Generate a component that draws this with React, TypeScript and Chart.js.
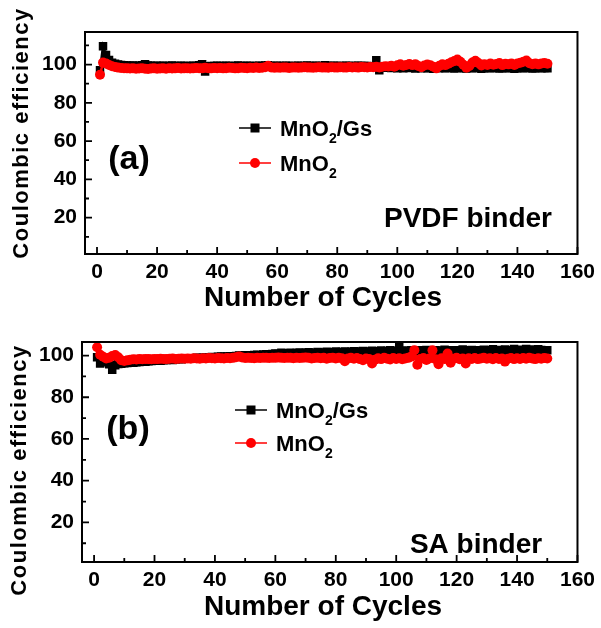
import React, { useEffect, useRef } from "react";
import { Chart, registerables } from "chart.js";

Chart.register(...registerables);

// ---------- data ----------
const cycles: number[] = Array.from({ length: 150 }, (_, i) => i + 1);

const xTickStep = 20;
const yTickStep = 20;

// Panel (a) PVDF binder
const pvdfGs: number[] = [
  97.0, 109.5, 105.0, 102.4, 101.0, 100.4, 100.0, 99.8, 99.6, 99.5,
  99.4, 99.5, 99.3, 99.4, 99.6, 100.1, 99.5, 99.4, 99.3, 99.4,
  99.3, 99.4, 99.2, 99.3, 99.5, 99.3, 99.2, 99.4, 99.3, 99.2,
  99.3, 99.4, 99.2, 99.6, 100.2, 96.3, 99.1, 99.3, 99.2, 99.4,
  99.3, 99.2, 99.4, 99.3, 99.2, 99.3, 99.5, 99.3, 99.2, 99.4,
  99.3, 99.2, 99.3, 99.4, 99.2, 99.5, 99.6, 99.3, 99.2, 99.4,
  99.3, 99.2, 99.4, 99.3, 99.2, 99.3, 99.4, 99.2, 99.3, 99.5,
  99.3, 99.2, 99.4, 99.3, 99.2, 99.6, 99.3, 99.2, 99.4, 99.3,
  99.2, 99.3, 99.4, 99.2, 99.3, 99.2, 99.4, 99.3, 99.2, 99.3,
  99.1, 98.9, 102.2, 97.0, 98.6, 98.3, 98.5, 98.2, 98.4, 98.1,
  98.3, 98.0, 98.4, 98.2, 98.5, 97.9, 98.3, 98.1, 98.4, 98.0,
  98.2, 97.8, 98.3, 98.1, 98.4, 98.0, 98.2, 98.3, 97.9, 98.2,
  98.4, 98.1, 97.9, 98.3, 98.0, 98.2, 98.4, 97.8, 98.1, 98.3,
  98.0, 98.2, 98.4, 97.9, 98.1, 98.3, 98.0, 98.2, 97.8, 98.1,
  98.3, 98.0, 98.2, 98.4, 97.9, 98.1, 98.3, 98.0, 98.2, 98.1,
];

const pvdfMn: number[] = [
  94.7, 101.0, 100.6, 99.8, 99.1, 98.7, 98.4, 98.2, 98.1, 98.0,
  97.9, 98.0, 97.8, 97.9, 98.1, 97.8, 97.7, 97.9, 98.0, 97.8,
  97.9, 98.0, 97.8, 98.1, 97.9, 98.0, 98.2, 97.9, 98.0, 98.1,
  97.9, 98.0, 98.2, 98.1, 98.0, 98.3, 98.1, 98.0, 98.2, 98.1,
  98.2, 98.0, 98.1, 98.3, 98.2, 98.0, 98.1, 98.3, 98.2, 98.1,
  98.3, 98.2, 98.4, 98.2, 98.3, 98.6, 99.4, 98.5, 98.3, 98.4,
  98.3, 98.5, 98.4, 98.2, 98.4, 98.5, 98.3, 98.4, 98.6, 98.5,
  98.4, 98.3, 98.5, 98.6, 98.4, 98.5, 98.3, 98.6, 98.5, 98.4,
  98.6, 98.5, 98.4, 98.7, 98.5, 98.6, 98.4, 98.7, 98.6, 98.5,
  98.7, 98.6, 98.8, 98.5, 98.9, 99.1, 99.0, 99.4, 98.9, 99.6,
  100.1, 99.4, 99.8, 100.3, 99.7, 100.2, 99.2, 98.6, 99.5, 100.0,
  99.6, 98.8, 98.0, 99.3, 100.1, 99.7, 100.4, 101.2, 101.8, 102.6,
  101.5, 99.9, 98.3, 99.2, 101.0, 102.0, 100.8, 99.5, 100.2, 99.8,
  100.6, 99.9, 100.3, 100.8, 99.7, 100.4, 100.1, 100.6, 99.8, 100.5,
  100.9, 101.5, 102.1, 100.7, 100.2, 100.6, 100.1, 100.5, 100.8, 100.4,
];

// Panel (b) SA binder
const saGs: number[] = [
  99.2, 96.2, 97.4, 96.8, 95.8, 93.2, 95.4, 96.0, 96.1, 96.3,
  96.4, 96.6, 96.5, 96.8, 96.9, 97.1, 97.0, 97.3, 97.4, 97.5,
  97.6, 97.5, 97.8, 97.9, 98.0, 97.9, 98.2, 98.3, 98.2, 98.5,
  98.6, 98.5, 98.7, 98.9, 98.8, 99.0, 99.1, 99.0, 99.3, 99.2,
  99.4, 99.5, 99.4, 99.6, 99.7, 99.6, 99.8, 100.0, 99.9, 100.1,
  100.2, 100.0, 100.3, 100.4, 100.2, 100.5, 100.6, 100.4, 100.7, 101.0,
  100.8, 101.3, 100.9, 101.1, 101.4, 101.0, 101.2, 101.5, 101.1, 101.3,
  101.6, 101.2, 101.4, 101.7, 101.3, 101.5, 101.8, 101.4, 101.6, 101.9,
  101.5, 101.7, 102.0, 101.6, 101.8, 102.1, 101.7, 101.9, 102.2, 101.8,
  102.0, 102.3, 101.9, 102.1, 102.4, 102.0, 102.2, 102.5, 102.1, 102.3,
  104.2, 102.2, 102.4, 102.0, 102.6, 102.3, 101.9, 102.5, 102.2, 102.7,
  102.3, 102.0, 102.6, 102.4, 102.1, 102.8, 102.3, 102.5, 102.0, 102.6,
  102.4, 102.9, 102.2, 102.5, 102.7, 102.3, 102.6, 102.1, 102.8, 102.4,
  102.6, 103.0, 102.3, 102.7, 102.5, 102.9, 102.4, 102.6, 103.1, 102.5,
  102.8, 102.4, 103.2, 102.6, 102.9, 102.5, 103.0, 102.7, 102.4, 102.6,
];

const saMn: number[] = [
  104.0, 100.4, 99.4, 98.6, 99.0, 99.8, 100.3, 99.2, 97.8, 97.4,
  97.7, 98.0, 98.2, 98.1, 98.3, 98.2, 98.4, 98.3, 98.2, 98.4,
  98.3, 98.5, 98.4, 98.3, 98.5, 98.6, 98.4, 98.5, 98.6, 98.5,
  98.6, 98.5, 98.7, 98.6, 98.5, 98.7, 98.6, 98.8, 98.7, 98.6,
  98.8, 98.7, 98.6, 98.8, 98.7, 98.9, 99.2, 99.6, 99.1, 98.8,
  98.9, 98.8, 98.7, 98.9, 98.8, 99.0, 98.9, 98.8, 99.0, 98.9,
  99.1, 98.9, 98.8, 99.0, 98.9, 98.7, 99.0, 98.8, 98.9, 99.1,
  98.9, 98.6, 98.8, 99.0, 98.7, 98.9, 98.5, 98.8, 99.0, 98.6,
  98.9, 98.7, 97.3, 98.6, 98.9, 98.5, 98.8, 98.3, 97.8, 98.6,
  98.4, 96.2, 98.0, 98.7, 98.3, 98.9, 98.5, 98.1, 98.8, 98.4,
  98.7, 98.2, 98.6, 98.9, 99.5, 102.6, 95.6, 98.4, 98.8, 97.9,
  98.6, 102.5, 98.2, 95.8, 98.7, 98.3, 101.0, 96.6, 98.5, 98.9,
  98.2, 98.6, 96.2, 98.7, 98.4, 98.8, 98.3, 98.6, 98.9, 98.5,
  98.7, 98.2, 98.8, 98.4, 98.6, 97.1, 98.5, 98.8, 98.3, 98.7,
  98.4, 98.8, 98.5, 98.9, 98.6, 98.3, 98.7, 98.5, 98.8, 98.6,
];

const seriesNames = ["MnO|2|/Gs", "MnO|2|"];
const xTitle = "Number of Cycles";
const yTitle = "Coulombic efficiency";

// ---------- helpers ----------
const FONT = "'Liberation Sans', Arial, sans-serif";

function drawSubText(ctx: CanvasRenderingContext2D, text: string, x: number, y: number, size: number) {
  const parts = text.split("|");
  let cx = x;
  parts.forEach((p, i) => {
    const sub = i % 2 === 1;
    ctx.font = `bold ${sub ? Math.round(size * 0.62) : size}px ${FONT}`;
    ctx.textBaseline = "alphabetic";
    ctx.textAlign = "left";
    ctx.fillText(p, cx, y + (sub ? size * 0.3 : 0));
    cx += ctx.measureText(p).width;
  });
}

type PanelCfg = {
  label: string;
  labelPos: [number, number];
  binder: string;
  binderPos: [number, number];
  legendX: number;
  legendRows: [number, number];
  yTitlePos: [number, number];
  xTitlePos: [number, number];
};

function makePlugin(cfg: PanelCfg) {
  return {
    id: "decor",
    afterDraw(chart: any) {
      const ctx: CanvasRenderingContext2D = chart.ctx;
      const { left, right, top, bottom } = chart.chartArea;
      const xs = chart.scales.x;
      const ys = chart.scales.y;
      ctx.save();
      ctx.strokeStyle = "#000";
      ctx.lineWidth = 2;
      ctx.strokeRect(left, top, right - left, bottom - top);

      // inward ticks
      ctx.lineWidth = 1.8;
      const xt: number[] = xs.ticks.map((t: any) => t.value);
      const yt: number[] = ys.ticks.map((t: any) => t.value);
      const minors = (vals: number[], min: number, max: number) => {
        const out: number[] = [];
        for (let i = 0; i < vals.length - 1; i++) out.push((vals[i] + vals[i + 1]) / 2);
        if (vals.length > 1) {
          const st = vals[1] - vals[0];
          const b = vals[0] - st / 2;
          const a = vals[vals.length - 1] + st / 2;
          if (b >= min) out.push(b);
          if (a <= max) out.push(a);
        }
        return out;
      };
      ctx.beginPath();
      xt.forEach((v) => {
        const px = xs.getPixelForValue(v);
        ctx.moveTo(px, bottom);
        ctx.lineTo(px, bottom - 7);
      });
      minors(xt, xs.min, xs.max).forEach((v) => {
        const px = xs.getPixelForValue(v);
        ctx.moveTo(px, bottom);
        ctx.lineTo(px, bottom - 4);
      });
      yt.forEach((v) => {
        const py = ys.getPixelForValue(v);
        ctx.moveTo(left, py);
        ctx.lineTo(left + 7, py);
      });
      minors(yt, ys.min, ys.max).forEach((v) => {
        const py = ys.getPixelForValue(v);
        ctx.moveTo(left, py);
        ctx.lineTo(left + 4, py);
      });
      ctx.stroke();

      ctx.fillStyle = "#000";
      // axis titles
      ctx.font = `bold 28px ${FONT}`;
      ctx.textAlign = "center";
      ctx.textBaseline = "middle";
      ctx.fillText(xTitle, cfg.xTitlePos[0], cfg.xTitlePos[1]);

      ctx.save();
      ctx.translate(cfg.yTitlePos[0], cfg.yTitlePos[1]);
      ctx.rotate(-Math.PI / 2);
      (ctx as any).letterSpacing = "1.5px";
      ctx.font = `bold 22px ${FONT}`;
      ctx.fillText(yTitle, 0, 0);
      ctx.restore();

      // panel label and binder text
      ctx.font = `bold 34px ${FONT}`;
      ctx.textAlign = "center";
      ctx.textBaseline = "middle";
      ctx.fillText(cfg.label, cfg.labelPos[0], cfg.labelPos[1]);
      ctx.font = `bold 28px ${FONT}`;
      ctx.fillText(cfg.binder, cfg.binderPos[0], cfg.binderPos[1]);

      // legend
      const ds = chart.data.datasets;
      const order = [1, 0]; // black first, red second
      order.forEach((di, row) => {
        const d = ds[di];
        const y = cfg.legendRows[row];
        const x0 = cfg.legendX;
        ctx.strokeStyle = d.borderColor;
        ctx.lineWidth = 1.5;
        ctx.beginPath();
        ctx.moveTo(x0, y);
        ctx.lineTo(x0 + 32, y);
        ctx.stroke();
        ctx.fillStyle = d.borderColor;
        if (d.pointStyle === "rect") {
          ctx.fillRect(x0 + 16 - 4.5, y - 4.5, 9, 9);
        } else {
          ctx.beginPath();
          ctx.arc(x0 + 16, y, 5, 0, Math.PI * 2);
          ctx.fill();
        }
        ctx.fillStyle = "#000";
        drawSubText(ctx, d.label, x0 + 41, y + 8, 22);
      });
      ctx.restore();
    },
  };
}

function Panel({
  width,
  height,
  top,
  gs,
  mn,
  yMax,
  plotLeft,
  plotTop,
  plotRight,
  plotBottom,
  cfg,
}: {
  width: number;
  height: number;
  top: number;
  gs: number[];
  mn: number[];
  yMax: number;
  plotLeft: number;
  plotTop: number;
  plotRight: number;
  plotBottom: number;
  cfg: PanelCfg;
}) {
  const ref = useRef<HTMLCanvasElement | null>(null);
  useEffect(() => {
    if (!ref.current) return;
    const chart = new Chart(ref.current, {
      type: "line",
      data: {
        datasets: [
          {
            label: seriesNames[1],
            data: cycles.map((c, i) => ({ x: c, y: mn[i] })),
            borderColor: "#ff0000",
            backgroundColor: "#ff0000",
            borderWidth: 2.5,
            pointStyle: "circle",
            pointRadius: 5,
            pointBorderWidth: 0,
            tension: 0,
          },
          {
            label: seriesNames[0],
            data: cycles.map((c, i) => ({ x: c, y: gs[i] })),
            borderColor: "#000000",
            backgroundColor: "#000000",
            borderWidth: 2.5,
            pointStyle: "rect",
            pointRadius: 6,
            pointBorderWidth: 0,
            tension: 0,
          },
        ],
      },
      options: {
        animation: false,
        responsive: false,
        events: [],
        layout: {
          padding: { left: 0, top: plotTop, right: width - plotRight, bottom: 0 },
        },
        plugins: { legend: { display: false }, tooltip: { enabled: false } },
        scales: {
          x: {
            type: "linear",
            min: -4,
            max: 160,
            grid: { display: false, drawTicks: false },
            border: { display: false },
            ticks: {
              stepSize: xTickStep,
              includeBounds: false,
              color: "#000",
              padding: 6,
              maxRotation: 0,
              font: { family: FONT, size: 21, weight: "bold" },
            },
            afterFit: (s: any) => {
              s.height = height - plotBottom;
            },
          },
          y: {
            type: "linear",
            min: 1,
            max: yMax,
            grid: { display: false, drawTicks: false },
            border: { display: false },
            ticks: {
              stepSize: yTickStep,
              includeBounds: false,
              color: "#000",
              padding: 8,
              font: { family: FONT, size: 21, weight: "bold" },
            },
            afterFit: (s: any) => {
              s.width = plotLeft;
            },
          },
        },
      },
      plugins: [makePlugin(cfg)],
    } as any);
    return () => chart.destroy();
  }, []);
  return (
    <canvas
      ref={ref}
      width={width}
      height={height}
      style={{ position: "absolute", left: 0, top, width, height, display: "block" }}
    />
  );
}

export default function App() {
  return (
    <div style={{ position: "absolute", left: 0, top: 0, width: 601, height: 628, background: "#fff" }}>
      <Panel
        width={601}
        height={318}
        top={0}
        gs={pvdfGs}
        mn={pvdfMn}
        yMax={117}
        plotLeft={85}
        plotTop={32}
        plotRight={580}
        plotBottom={254}
        cfg={{
          label: "(a)",
          labelPos: [129, 160],
          binder: "PVDF binder",
          binderPos: [468, 219],
          legendX: 239,
          legendRows: [128, 163],
          yTitlePos: [22, 133],
          xTitlePos: [323, 298],
        }}
      />
      <Panel
        width={601}
        height={310}
        top={318}
        gs={saGs}
        mn={saMn}
        yMax={106.5}
        plotLeft={82}
        plotTop={24}
        plotRight={579}
        plotBottom={244}
        cfg={{
          label: "(b)",
          labelPos: [128, 112],
          binder: "SA binder",
          binderPos: [476, 227],
          legendX: 235,
          legendRows: [92, 125],
          yTitlePos: [20, 152],
          xTitlePos: [323, 289],
        }}
      />
    </div>
  );
}
